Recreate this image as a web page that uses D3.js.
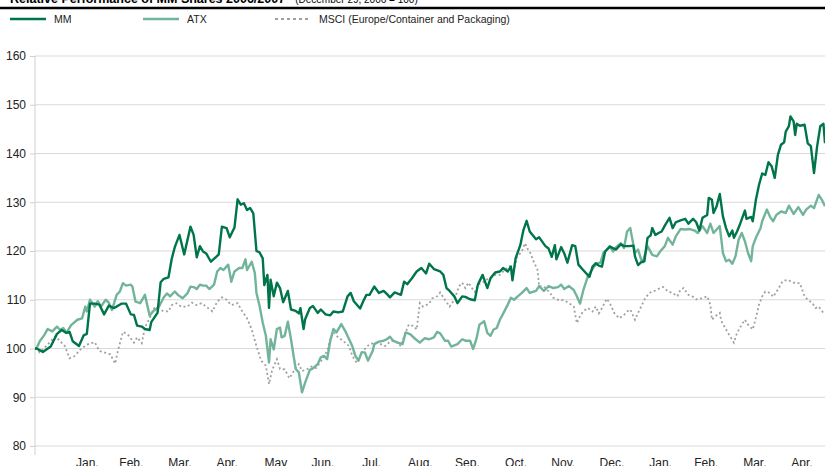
<!DOCTYPE html>
<html>
<head>
<meta charset="utf-8">
<script src="https://cdn.jsdelivr.net/npm/d3@7"></script>
<style>
  html, body { margin: 0; padding: 0; background: #fff; }
  svg { display: block; font-family: "Liberation Sans", Arial, sans-serif; }
</style>
</head>
<body>
<svg id="chart" width="825" height="466"></svg>
<script>
// ---- Data (index: December 29, 2006 = 100); day = days after Dec 29, 2006 ----
const startDate = "2006-12-29";
const endDate = "2008-05-15";
const monthLabels = ["Jan.","Feb.","Mar.","Apr.","May","Jun.","Jul.","Aug.","Sep.","Oct.","Nov.","Dec.","Jan.","Feb.","Mar.","Apr."];
const yTicks = [80, 90, 100, 110, 120, 130, 140, 150, 160];
const seriesNames = ["MM", "ATX", "MSCI (Europe/Container and Packaging)"];

const mmDays = [0,1,5,10,14,17,20,22,24,28,31,33,35,38,41,44,47,50,52,55,58,61,63,65,68,70,73,74,78,80,82,85,87,89,92,95,99,101,103,105,107,109,112,115,117,119,122,124,127,129,131,133,135,137,139,141,143,145,146,148,149,150,152,154,156,158,161,163,166,168,169,171,172,175,177,180,182,185,188,190,193,196,199,201,203,207,209,211,213,216,219,222,224,226,229,233,235,237,240,243,246,249,251,254,258,260,262,264,267,269,272,274,277,280,282,285,288,290,293,296,298,301,303,304,306,309,311,313,315,319,321,325,327,329,331,332,335,337,339,342,344,346,349,353,355,357,359,361,363,366,370,373,375,378,381,382,384,386,388,390,392,393,395,397,399,401,404,406,408,411,414,416,419,421,423,425,428,429,431,432,434,436,438,440,442,444,445,447,449,452,453,456,457,459,461,463,465,467,469,471,473,475,477,478,480,481,483,484,485,487,490,492,494,496,498,500,502,503];
const mmValues = [100,100,99.3,100.4,103,103.8,103.2,103.4,101.5,100.5,102.7,103,109.2,109.2,109,107,108.8,108.3,108.6,109.2,109.2,107,106.9,104.7,104.5,104,103.8,105.4,107.3,113.6,114.3,114.6,118.3,120.8,123.3,119.3,125,123.3,118.7,121,119.9,119.5,117.8,118.7,119.3,125,124.7,122.8,124.8,130.6,129.5,129.8,128.4,128.8,127.7,120,119.7,118.5,113,115.1,108.3,114.1,110.7,113.5,112.4,109.5,111.8,108,107.7,107.2,108.3,104,106,108.3,108.7,107.3,108,107,106.8,107.6,107.4,107.6,110.7,111.4,109.7,108.2,109.7,111,111,112.7,111.4,111.8,111.2,110.5,111.5,111,113.7,113.2,114.4,115.8,116.5,115.4,117.4,116.3,115.8,115.1,112.4,111.8,110.7,109.3,110.7,110.6,110.1,109.9,113.1,115.1,112.4,114.4,115.6,115.8,116.5,115.8,116.8,114,118.5,121.2,124.3,126.2,124,122.4,122.8,121,120.5,118.8,121.2,118.3,120.8,119.5,117.6,121.2,121,117.2,116.1,114.7,116.8,117.5,117,116.8,119.9,120.9,120.3,121.4,121,121,121.1,118.9,117.1,117.7,117.9,122.7,123.2,124.7,123.3,123.7,124,125.2,126.8,124.7,125.9,126.3,126.6,125.6,126.6,125.9,124.2,126.8,127.4,130.9,130.5,127.8,129.2,131.7,127.1,124.7,123,124.2,122.7,124,125.6,128.3,126.6,127,126.1,130.5,133.6,135.9,135.6,138.2,137.4,135,139.7,141.8,142.3,144.5,145.6,147.6,146.6,143.8,146.1,145.7,145.9,142.1,141.5,136,141.5,145.6,146.1,142.1];

const atxDays = [0,1,3,6,8,11,14,16,18,20,23,27,30,32,33,35,38,40,42,45,47,49,52,54,56,58,61,62,64,67,70,73,75,79,82,84,86,89,91,94,97,99,101,103,105,107,109,111,114,116,118,120,123,125,127,130,132,134,135,138,140,141,143,145,147,149,150,152,154,156,157,159,161,163,165,166,168,170,172,175,177,180,182,184,186,188,190,192,195,198,200,202,204,206,208,210,212,215,216,219,222,224,226,228,231,234,236,239,242,245,248,251,254,256,258,261,263,265,269,272,274,277,279,281,283,286,288,290,292,294,296,298,301,303,305,307,310,313,315,319,321,324,327,330,333,335,337,340,343,345,347,349,352,354,356,358,360,362,364,366,368,370,373,375,377,379,380,382,384,386,387,388,390,393,396,398,401,403,406,408,411,414,417,420,422,425,428,430,432,434,436,438,440,442,444,446,448,450,452,454,456,457,459,462,463,466,468,470,472,475,478,480,483,486,489,491,494,496,499,501,503];
const atxValues = [100,100,101.5,102.8,104,103.5,104.5,103.8,104.2,103.2,104.8,105.9,106.2,108.6,107.6,110,108.6,109.7,108.6,110,109.4,107.9,111,111.7,113.4,112.9,113.1,112.7,109.6,109.3,111,106.7,107.6,108.6,110.5,111.3,110.7,111.7,111,110.3,111.3,112.7,112.6,112.2,113.1,112.9,112.9,112.2,113.1,115.8,116.5,116.1,117.2,113.7,115.8,116.5,116.5,118.3,116.1,117.8,115.4,111.4,108.7,105.3,102.6,97.1,101.9,99.8,104,104.3,102.3,102.6,105.5,101.9,97.8,95.8,95.1,91,93,95.6,95.9,96.8,98.2,98.5,97.8,101.6,104,103.3,105,103.3,101.9,100.5,98.5,97.5,99.2,99.2,97.5,99.5,100.9,101.4,101.6,101.9,102.4,101.6,101.2,100.9,103.3,102.9,102,101.2,102.1,101.9,102.3,103.4,103.1,101.6,101.6,100.4,100.9,101.9,101.6,101.6,99.9,101.9,104.9,105.6,103.2,102.6,103.9,104.2,105.9,107.1,109,110.4,110,110.6,111.4,112.4,111.4,111.8,112.8,111.8,112.8,112.4,112.6,113.1,112.2,112.8,112,110.7,109.2,111.8,114.8,115.8,116.8,117.5,117.6,119.7,120.2,121,119.9,120.8,121.6,120.6,124,124.7,123,119.6,120.3,118.2,117.7,118.9,121,119.2,118.9,119.9,121,122.7,121.3,123,124.5,124.4,124.5,124.2,123.7,125.1,123.7,125.6,123.7,124.4,125.1,119.6,117.9,118.2,117.4,118.9,122.3,123.7,122,119.6,117.9,121,122.7,124.7,126.1,128.5,127,126.1,127.4,128.1,127.8,129.3,127.6,129,127.4,128.5,129.3,128.8,131.5,130.5,129.2];

const msciDays = [0,1,3,6,10,13,16,19,22,25,29,33,38,41,45,48,51,53,56,59,63,65,68,70,73,76,79,82,85,87,90,93,97,100,103,106,109,113,116,119,122,125,129,132,135,138,141,144,147,149,151,154,156,159,162,166,168,170,173,176,179,183,186,188,190,193,196,200,202,205,208,210,213,217,220,223,226,229,233,235,238,241,243,245,247,251,253,256,258,261,264,267,270,272,274,276,278,280,282,285,287,290,293,296,299,302,305,307,310,312,314,315,317,320,321,323,325,328,330,333,337,340,343,345,347,349,352,355,357,359,361,364,366,369,372,375,377,379,382,384,388,391,395,398,400,403,406,409,411,413,416,419,421,425,428,430,431,433,436,437,440,442,445,447,450,452,454,457,459,461,463,465,468,470,473,476,479,481,484,487,490,492,495,497,499,502];
const msciValues = [100,100,99.2,100.1,101.5,102.5,101.5,100.5,98,98.4,99.8,100.8,101.3,99.5,99.1,98.8,96.9,99.8,103.4,102.9,101.2,102.3,101.1,104.3,106.2,108.3,108.1,107.6,107.6,108.9,109.3,108.6,108.6,109.4,108.9,109.3,108.6,107.6,109.6,110.5,110,108.9,109.3,107.6,106.2,103.9,100.5,97.5,96.5,92.7,95.6,97.8,95.8,95.7,93.9,96,96.8,95.4,95.7,96.3,96,97.8,99.5,101.9,103.3,102.3,101.6,100.5,98.5,97,99.2,99.9,100.9,101.2,100.9,100.5,101.4,101.6,100.5,102.5,104.9,104.6,103.9,109.3,108.6,109.2,110.3,110.7,111.5,110,108.6,110,112.8,113.5,112.4,113.5,112.5,111.6,113.1,113.5,114.1,114.4,115.1,115.1,116.1,116.9,116.1,118.8,119.9,121.6,120.2,119.9,118.2,116.1,112.7,112.8,112.4,111.4,110.4,110,109.9,109.3,108.6,105.2,106.6,107.6,108.3,107.6,108.6,107.2,108.3,110.2,109.3,107.2,106.2,106.9,107.6,108,105.9,107.3,110,111.4,111.9,112.4,112.6,111.7,111.4,110.7,112.1,112.4,111,110.6,110.1,110.3,110.7,109,105.9,106.6,107.3,105.6,103.9,102.8,101.2,103.2,104.9,105.9,104.9,103.9,106.3,109,110.7,111.7,111.4,110.6,112.1,113.8,114.1,113.8,113.4,113.4,110.7,110,109.3,108.3,108.6,107.3];

// ---- Drawing ----
const svg = d3.select("#chart");
const parse = d3.timeParse("%Y-%m-%d");
const t0 = parse(startDate);
const toDate = d => d3.timeDay.offset(t0, d);

const x = d3.scaleTime().domain([t0, parse(endDate)]).range([35, 825]);
const y = d3.scaleLinear().domain([80, 160]).range([446, 56]);

const colors = { mm: "#00754a", atx: "#72b49a", msci: "#a0a0a0" };

// Title (cut off at the top, as in the original)
const title = svg.append("text").attr("x", 10).attr("y", 2.5)
  .attr("font-size", 12.5).attr("font-weight", "bold").attr("fill", "#000");
title.append("tspan").text("Relative Performance of MM Shares 2006/2007");
title.append("tspan").attr("dx", 10).attr("font-size", 10).attr("font-weight", "normal")
  .text("(December 29, 2006 = 100)");
svg.append("line").attr("x1", 0).attr("x2", 825).attr("y1", 8).attr("y2", 8)
  .attr("stroke", "#000").attr("stroke-width", 2.6);

// Legend
const legendItems = [
  { name: seriesNames[0], color: colors.mm, x: 10, dash: null, w: 2.4 },
  { name: seriesNames[1], color: colors.atx, x: 143, dash: null, w: 2.4 },
  { name: seriesNames[2], color: colors.msci, x: 275, dash: "3,3", w: 1.8 }
];
const lg = svg.append("g");
legendItems.forEach(it => {
  lg.append("line").attr("x1", it.x).attr("x2", it.x + 36).attr("y1", 19).attr("y2", 19)
    .attr("stroke", it.color).attr("stroke-width", it.w).attr("stroke-dasharray", it.dash);
  lg.append("text").attr("x", it.x + 44).attr("y", 23).attr("font-size", 10.5)
    .attr("fill", "#222").text(it.name);
});

// Gridlines
svg.append("g").selectAll("line").data(yTicks).join("line")
  .attr("x1", 35).attr("x2", 825).attr("y1", d => y(d)).attr("y2", d => y(d))
  .attr("stroke", "#d9d9d9").attr("stroke-width", 1);

// Y axis
const yAxis = svg.append("g").attr("transform", "translate(35,0)")
  .call(d3.axisLeft(y).tickValues(yTicks).tickSize(5).tickPadding(4).tickFormat(d3.format("d")));
yAxis.select(".domain").attr("stroke", "#d0d0d0").attr("d", "M0,56V455");
yAxis.selectAll(".tick line").attr("stroke", "#d0d0d0");
yAxis.selectAll(".tick text").attr("font-size", 12).attr("fill", "#222")
  .attr("font-family", "Liberation Sans, Arial, sans-serif");

// X axis (month labels at month ends)
const monthEnds = d3.timeMonth.range(parse("2007-02-01"), parse("2008-05-02")).map(d => d3.timeDay.offset(d, -1));
const xAxis = svg.append("g").attr("transform", "translate(0,456)")
  .call(d3.axisBottom(x).tickValues(monthEnds).tickSize(0).tickPadding(0)
    .tickFormat((d, i) => monthLabels[i]));
xAxis.select(".domain").remove();
xAxis.selectAll(".tick text").attr("font-size", 12).attr("fill", "#222").attr("dy", "0.71em")
  .attr("y", 2).attr("font-family", "Liberation Sans, Arial, sans-serif");

// Lines
const line = d3.line().x(d => x(d.date)).y(d => y(d.v));
const build = (days, vals) => days.map((d, i) => ({ date: toDate(d), v: vals[i] }));

svg.append("path").datum(build(msciDays, msciValues)).attr("d", line)
  .attr("fill", "none").attr("stroke", colors.msci).attr("stroke-width", 1.8)
  .attr("stroke-dasharray", "2,2.6");
svg.append("path").datum(build(atxDays, atxValues)).attr("d", line)
  .attr("fill", "none").attr("stroke", colors.atx).attr("stroke-width", 2.4)
  .attr("stroke-linejoin", "round");
svg.append("path").datum(build(mmDays, mmValues)).attr("d", line)
  .attr("fill", "none").attr("stroke", colors.mm).attr("stroke-width", 2.4)
  .attr("stroke-linejoin", "round");
</script>
</body>
</html>
